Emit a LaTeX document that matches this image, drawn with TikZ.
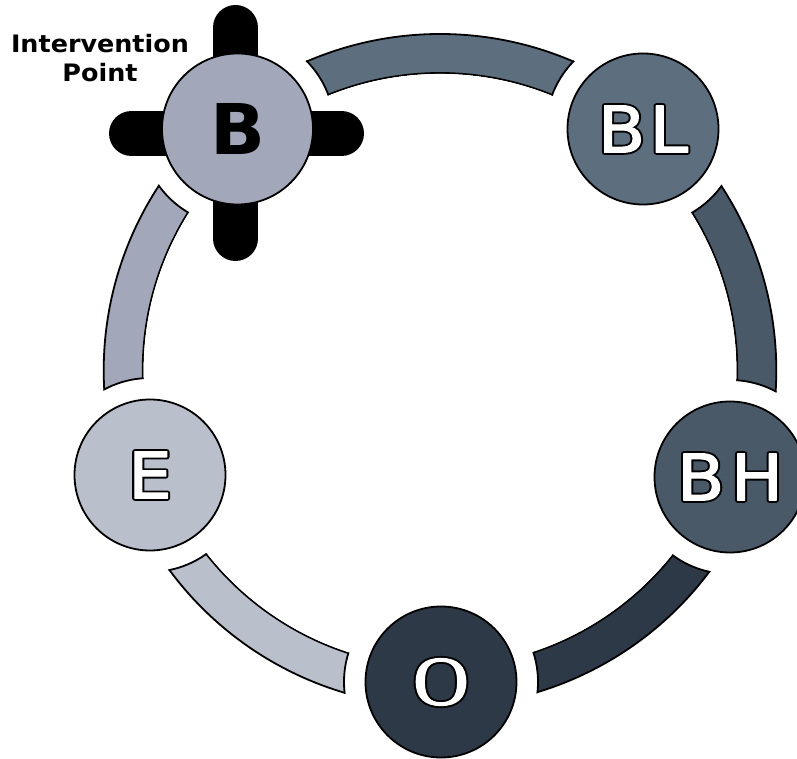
\documentclass[tikz,border=0pt]{standalone}
\usepackage{fontspec}
\newfontfamily\labfont{DejaVu Sans}
\newfontfamily\seriflab{Liberation Serif}
\definecolor{colB}{HTML}{A2A8BA}
\definecolor{colBL}{HTML}{5D6E7E}
\definecolor{colBH}{HTML}{4A5968}
\definecolor{colO}{HTML}{2E3947}
\definecolor{colE}{HTML}{BABFCC}
\tikzset{
  ringseg/.style={draw=black, line width=1.8pt, line join=miter},
  stagecircle/.style={circle, draw=black, line width=1.8pt, minimum size=151pt, inner sep=0pt},
  outlab/.style={font=\labfont\fontsize{64}{64}\selectfont},
  crossbar/.style={line width=45pt, line cap=round, draw=black},
}
\newcommand{\ringsector}[3]{%
  \filldraw[ringseg, fill=#1] (#2:336.3) arc[start angle=#2, end angle=#3, radius=336.3]
     -- (#3:297.3) arc[start angle=#3, end angle=#2, radius=297.3] -- cycle;}
% outlined white letters: black stroked layer under a white layer
\newcommand{\olabx}[2]{\scalebox{#1}[1]{%
  \makebox[0pt][l]{\color{black}\special{pdf:literal direct 2 Tr 5 w 1 j}#2}%
  {\color{white}\special{pdf:literal direct 2 Tr 1.2 w 1 j}#2}%
  \special{pdf:literal direct 0 Tr}}}
\newcommand{\olab}[1]{\olabx{1.08}{#1}}
\begin{document}
\begin{tikzpicture}[x=1pt,y=1pt]
\useasboundingbox (0,0) rectangle (797,759);
\coordinate (C) at (440,388.7);
\coordinate (pB) at (237.5,630);
\coordinate (pBL) at (643,630);
\coordinate (pBH) at (730,282);
\coordinate (pO) at (441,77);
\coordinate (pE) at (150,284);
% ring segments
\begin{scope}[shift={(C)}]
  \ringsector{colBL}{130.0}{50.0}
  \ringsector{colBH}{50.0}{-20.2}
  \ringsector{colO}{-20.2}{-89.8}
  \ringsector{colE}{-89.8}{-160.15}
  \ringsector{colB}{199.85}{130.0}
\end{scope}
% gaps around the stages
\foreach \p in {pB,pBL,pBH,pO,pE}{\fill[white] (\p) circle (97);}
\begin{scope}
  \clip (C) circle (337.2);
  \foreach \p in {pB,pBL,pBH,pO,pE}{\draw[line width=1.8pt] (\p) circle (97);}
\end{scope}
\fill[white] (C) circle (296.35);
% intervention cross
\coordinate (cxT) at (235.5,731.5);
\coordinate (cxD) at (235.5,520.5);
\coordinate (cxL) at (131.5,625.5);
\coordinate (cxR) at (341.5,625.5);
\draw[crossbar] (cxT) -- (cxD);
\draw[crossbar] (cxL) -- (cxR);
% stages
\node[stagecircle, fill=colB, font=\labfont\bfseries\fontsize{70}{70}\selectfont] (B) at (pB) {\scalebox{1.03}[1]{B}};
\node[stagecircle, fill=colBL, outlab] (BL) at (pBL) {\olab{B\kern4ptL}};
\node[stagecircle, fill=colBH, outlab] (BH) at (pBH) {\olab{B\kern6ptH}};
\node[stagecircle, fill=colO, font=\seriflab\fontsize{70}{70}\selectfont] (O) at (pO) {\olabx{1.1}{O}};
\node[stagecircle, fill=colE, outlab] (E) at (pE) {\olab{E}};
% label
\node[font=\labfont\bfseries\fontsize{24}{29}\selectfont, align=center, inner sep=0pt] (IP) at (100,701) {\scalebox{1.06}[1]{Intervention}\\\scalebox{1.06}[1]{Point}};
\end{tikzpicture}
\end{document}
